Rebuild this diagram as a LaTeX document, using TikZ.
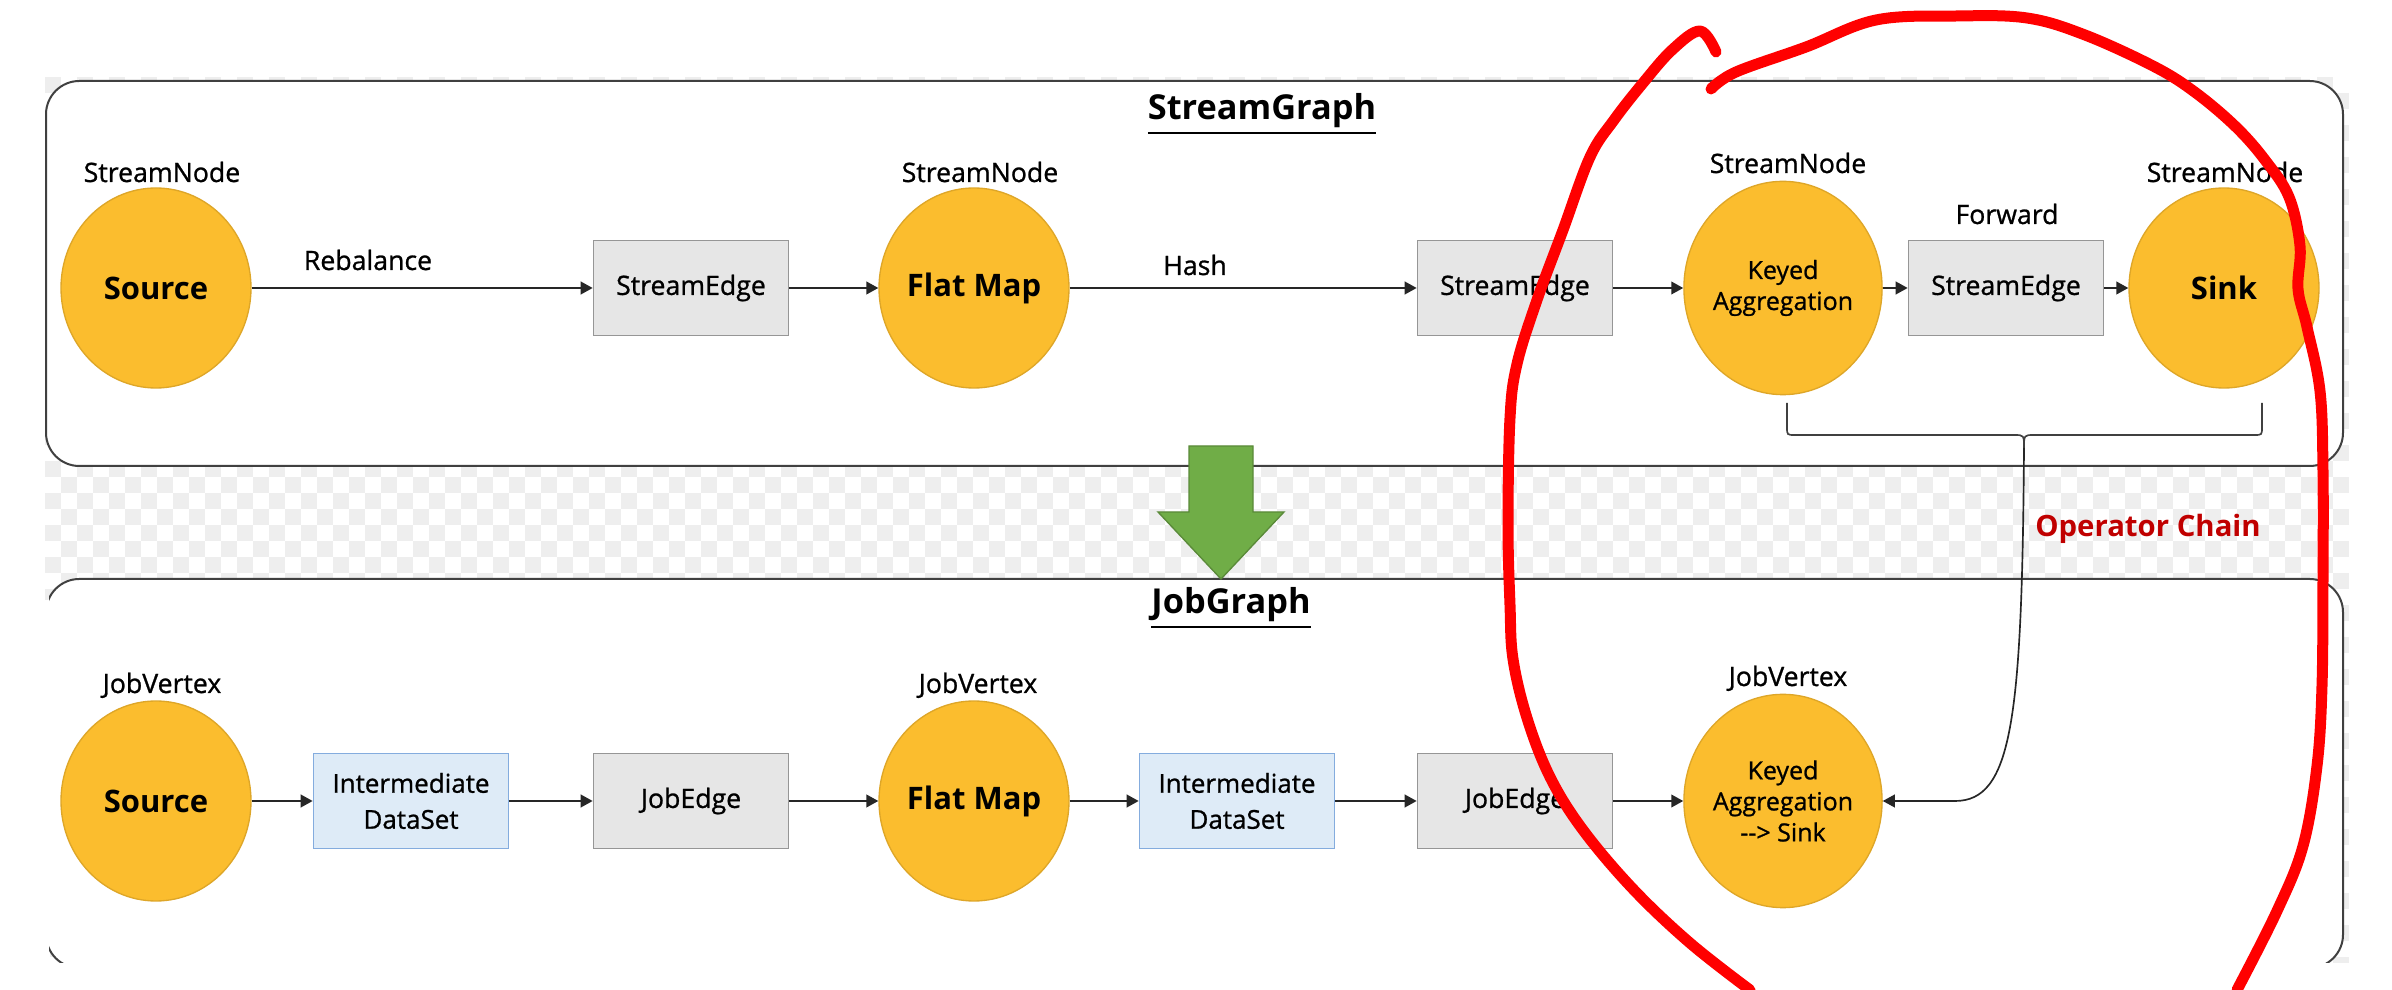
\documentclass[tikz,border=0pt]{standalone}
\usepackage{fontspec}
\setmainfont{Open Sans}
\newfontfamily\semifont{Open Sans}[FakeBold=0.9]
\usetikzlibrary{shapes.geometric,arrows.meta,positioning}
\definecolor{opyellow}{RGB}{251,189,46}
\definecolor{opyellowline}{RGB}{222,166,40}
\definecolor{edgegray}{RGB}{230,230,230}
\definecolor{edgeline}{RGB}{150,150,150}
\definecolor{dsblue}{RGB}{222,235,247}
\definecolor{dsline}{RGB}{132,172,222}
\definecolor{checkgray}{RGB}{238,238,238}
\definecolor{arrowgreen}{RGB}{112,173,71}
\definecolor{chainred}{RGB}{192,0,0}

\begin{document}
\begin{tikzpicture}[x=0.3pt,y=-0.3pt,
    vertex/.style={ellipse,fill=opyellow,draw=opyellowline,line width=0.4pt,minimum width=57pt,minimum height=60pt,inner sep=0pt,align=center,font=\fontsize{9.3}{11}\selectfont\bfseries},
    keyed/.style={vertex,minimum width=59.4pt,minimum height=64pt,font=\semifont\fontsize{7.5}{9.3}\selectfont},
    edgebox/.style={rectangle,fill=edgegray,draw=edgeline,line width=0.5pt,minimum width=58.5pt,minimum height=28.5pt,inner sep=0pt,align=center,font=\semifont\fontsize{8}{10}\selectfont},
    dataset/.style={edgebox,fill=dsblue,draw=dsline,font=\semifont\fontsize{7.8}{10.8}\selectfont},
    lab/.style={anchor=base,inner sep=0pt,font=\semifont\fontsize{8}{10}\selectfont},
    graphtitle/.style={anchor=base,inner sep=0pt,font=\fontsize{10.3}{12}\selectfont\bfseries},
    graphframe/.style={draw=black!75,line width=0.6pt,fill=white,rounded corners=10pt},
    flow/.style={-{Triangle[length=3.6pt,width=3.8pt]},line width=0.6pt,draw=black!85},
    bracestyle/.style={draw=black!75,line width=0.5pt},
  ]
  \useasboundingbox (0,0) rectangle (2392,990);
  \fill[white] (0,0) rectangle (2392,990);
  % checkered background
  \begin{scope}
    \clip (45,77) rectangle (2349,963);
    \foreach \r in {0,...,55} \foreach \c in {0,2,...,142}
      \fill[checkgray] ({45+16*(\c+mod(\r,2))},{77+16*\r}) rectangle +(16,16);
  \end{scope}
  % the two graph frames
  \draw[graphframe] (46,81) rectangle (2343,466);
  \begin{scope}
    \clip (0,0) rectangle (2392,963);
    \fill[white,rounded corners=10pt] (46,579) rectangle (2343,968);
    \fill[white] (40,600) rectangle (50,963);
    \clip (49,0) rectangle (2392,963);
    \draw[graphframe] (46,579) rectangle (2343,968);
  \end{scope}
  \node[graphtitle] (sgtitle) at (1262,120) {\underline{StreamGraph}};
  \node[graphtitle] (jgtitle) at (1231,614) {\underline{JobGraph}};

  % StreamGraph
  \node[vertex] (src) at (156,288) {Source};
  \node[edgebox] (se1) at (691,288) {StreamEdge};
  \node[vertex] (fmap) at (974,288) {Flat Map};
  \node[edgebox] (se2) at (1515,288) {StreamEdge};
  \node[keyed] (kagg) at (1783,288) {Keyed\\Aggregation};
  \node[edgebox] (se3) at (2006,288) {StreamEdge};
  \node[vertex] (sink) at (2224,288) {Sink};
  \node[lab] (srclab) at (162,182) {StreamNode};
  \node[lab] (fmaplab) at (980,182) {StreamNode};
  \node[lab] (kagglab) at (1788,173) {StreamNode};
  \node[lab] (sinklab) at (2225,182) {StreamNode};
  \node[lab] (rebal) at (368,270) {Rebalance};
  \node[lab] (hash) at (1195,275) {Hash};
  \node[lab] (fwd) at (2007,224) {Forward};
  \draw[flow] (src) -- (se1);
  \draw[flow] (se1) -- (fmap);
  \draw[flow] (fmap) -- (se2);
  \draw[flow] (se2) -- (kagg);
  \draw[flow] (kagg) -- (se3);
  \draw[flow] (se3) -- (sink);

  % JobGraph
  \node[vertex] (jsrc) at (156,801) {Source};
  \node[dataset] (ids1) at (411,801) {Intermediate\\DataSet};
  \node[edgebox] (je1) at (691,801) {JobEdge};
  \node[vertex] (jfmap) at (974,801) {Flat Map};
  \node[dataset] (ids2) at (1237,801) {Intermediate\\DataSet};
  \node[edgebox] (je2) at (1515,801) {JobEdge};
  \node[keyed] (jkagg) at (1783,801) {Keyed\\Aggregation\\{-}{-}> Sink};
  \node[lab] (jsrclab) at (162,693) {JobVertex};
  \node[lab] (jfmaplab) at (978,693) {JobVertex};
  \node[lab] (jkagglab) at (1788,686) {JobVertex};
  \draw[flow] (jsrc) -- (ids1);
  \draw[flow] (ids1) -- (je1);
  \draw[flow] (je1) -- (jfmap);
  \draw[flow] (jfmap) -- (ids2);
  \draw[flow] (ids2) -- (je2);
  \draw[flow] (je2) -- (jkagg);

  % operator chain brace
  \coordinate (chain) at (2024,448);
  \draw[bracestyle] (1787,403) -- (1787,427) .. controls (1787,435) .. (1795,435) -- (2014,435) .. controls (2024,435) .. (chain);
  \draw[bracestyle] (2262,403) -- (2262,427) .. controls (2262,435) .. (2254,435) -- (2034,435) .. controls (2024,435) .. (chain);
  \draw[flow,line width=0.5pt] (chain) .. controls (2022,720) and (2012,801) .. (1955,801) -- (jkagg.east);
  \node[anchor=base,inner sep=0pt,text=chainred,font=\fontsize{8.8}{10}\selectfont\bfseries] (opchain) at (2148,537) {Operator Chain};

  % green arrow
  \filldraw[fill=arrowgreen,draw=arrowgreen!80!black,line width=0.4pt] (1189,446) -- (1253,446) -- (1253,512) -- (1284,512) -- (1221,579) -- (1158,512) -- (1189,512) -- cycle;

  % red freehand mark
  \draw[red,line width=3.3pt,line cap=round,line join=round] plot[smooth,tension=0.6] coordinates {(1716,52) (1700,31) (1672,50) (1643,83) (1614,120) (1590,157) (1563,230) (1537,300) (1517,364) (1510,418) (1508,525) (1510,605) (1513,659) (1527,718) (1550,777) (1583,830) (1633,889) (1690,943) (1750,990)};
  \draw[red,line width=3.3pt,line cap=round,line join=round] plot[smooth,tension=0.6] coordinates {(1711,89) (1736,72) (1806,47) (1876,20) (1957,16) (2027,18) (2085,35) (2155,67) (2196,93) (2236,127) (2265,160) (2289,197) (2300,246) (2298,289) (2307,327) (2320,391) (2323,471) (2323,578) (2322,686) (2317,766) (2303,846) (2277,911) (2237,990)};
\end{tikzpicture}
\end{document}
